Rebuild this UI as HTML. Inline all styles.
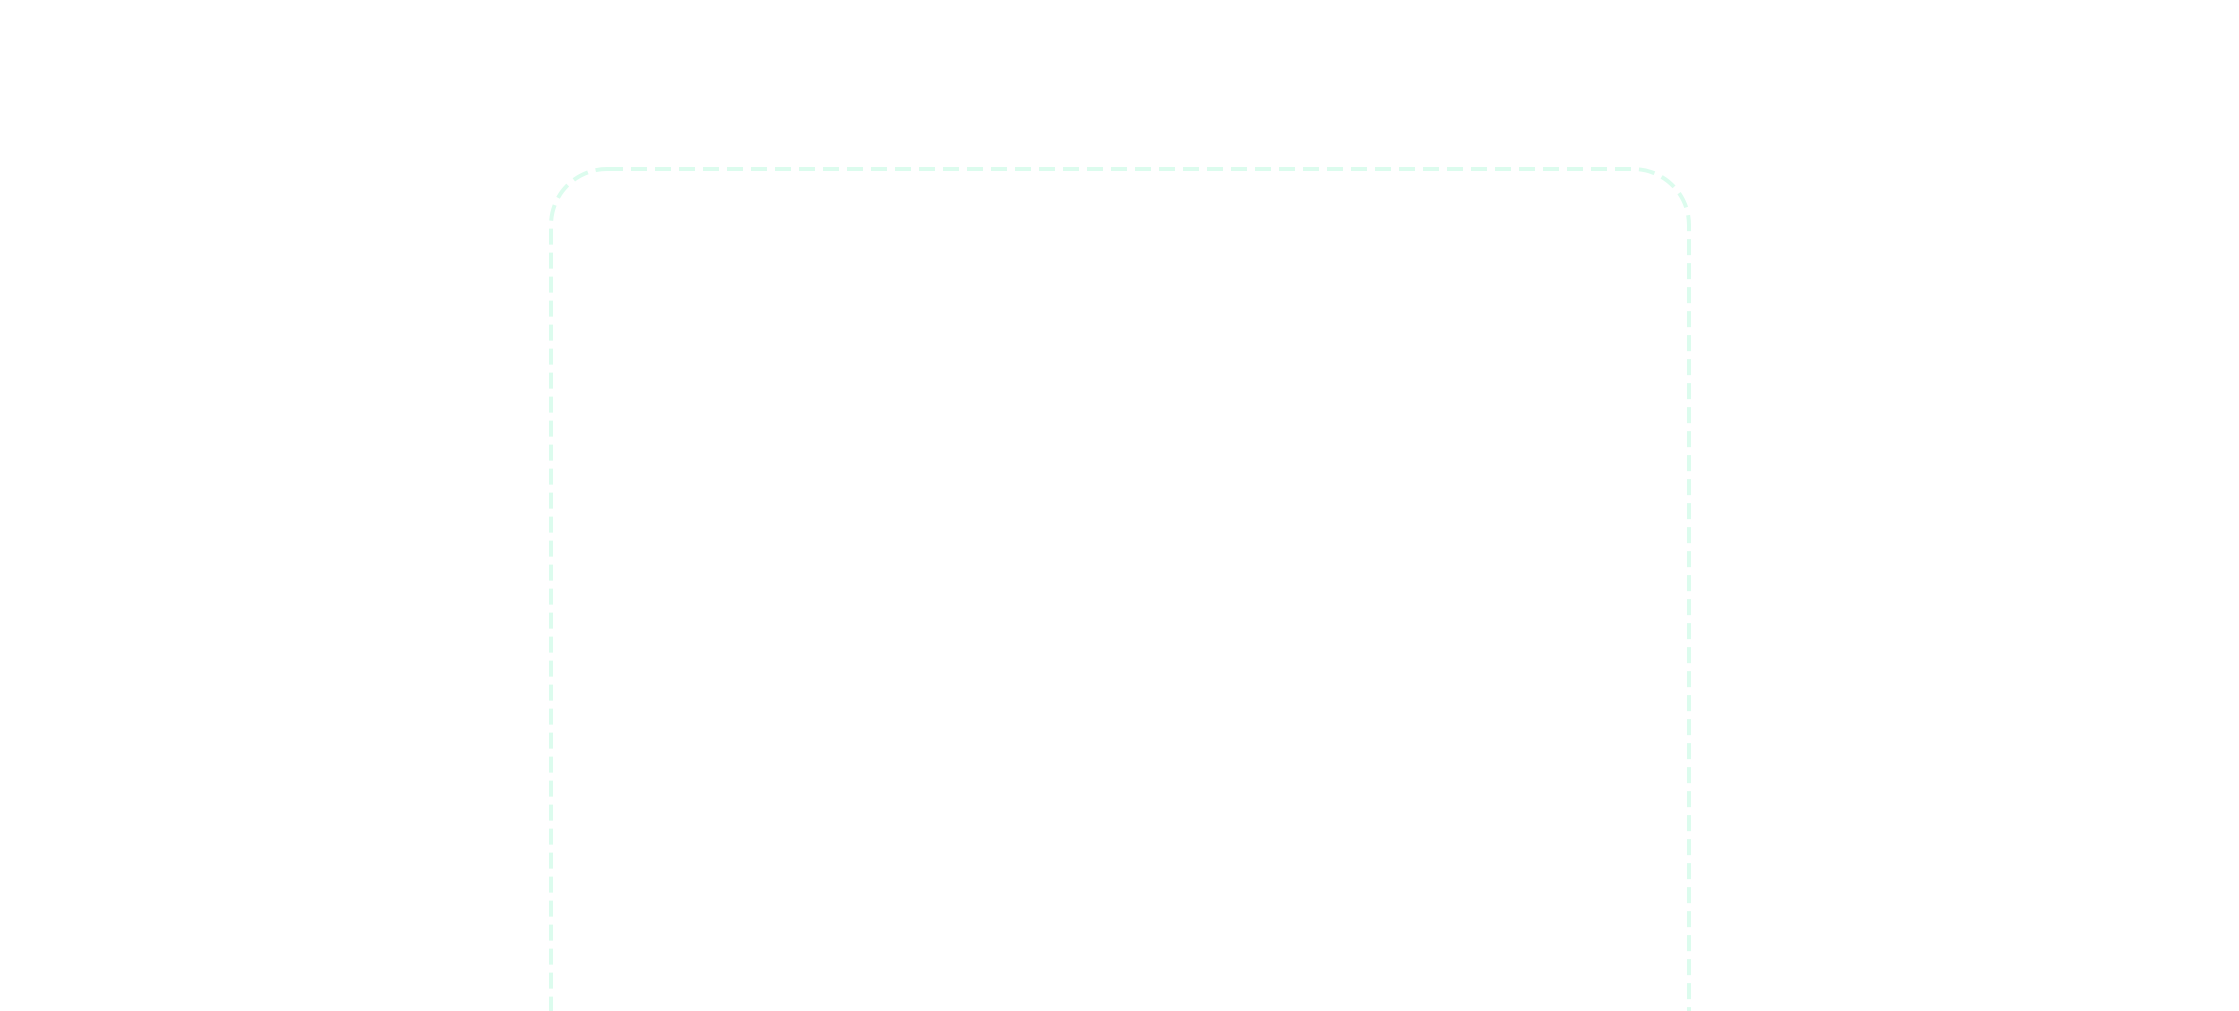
<!DOCTYPE html>
<html><head><meta charset="utf-8"><style>html,body{margin:0;padding:0;background:#fff;width:2239px;height:1011px;overflow:hidden}</style></head>
<body>
<svg width="2239" height="1011" viewBox="0 0 2239 1011" xmlns="http://www.w3.org/2000/svg">
<rect width="2239" height="1011" fill="#ffffff"/>
<rect x="551" y="169" width="1138" height="1100" rx="56" ry="56" fill="none" stroke="#dcfcee" stroke-width="4" stroke-dasharray="16 8"/>
</svg>
</body></html>
